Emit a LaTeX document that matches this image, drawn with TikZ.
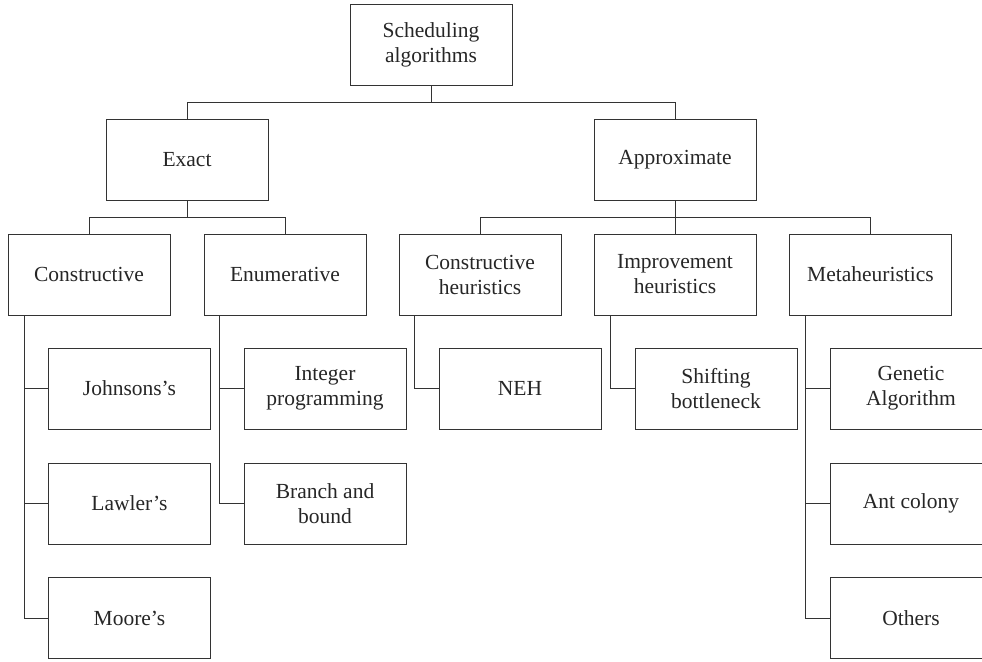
\documentclass[tikz,border=0pt]{standalone}
\usepackage{fontspec}
\setmainfont{Liberation Serif}
\begin{document}
\begin{tikzpicture}[x=1pt,y=-1pt,
  box/.style={draw=black!80, line width=0.9pt, rectangle, minimum width=162pt, minimum height=81pt,
    inner sep=0pt, align=center, text=black!85,
    font=\fontsize{21.5}{25}\selectfont},
  conn/.style={draw=black!80, line width=1pt}]
\useasboundingbox (0,0) rectangle (982,661);
\clip (0,0) rectangle (982,661);
% level 1
\node[box] (root) at (431,45) {Scheduling\\algorithms};
% level 2
\node[box] (exact) at (187,159.5) {Exact};
\node[box] (approx) at (675,159.5) {Approximate};
% level 3
\node[box] (cons) at (89,274.5) {Constructive};
\node[box] (enum) at (285,274.5) {Enumerative};
\node[box] (ch) at (480,274.5) {Constructive\\heuristics};
\node[box] (impr) at (675,274.5) {Improvement\\heuristics};
\node[box] (meta) at (870.5,274.5) {Metaheuristics};
% leaves
\node[box] (john) at (129.5,388.5) {Johnsons’s};
\node[box] (lawler) at (129.5,503.5) {Lawler’s};
\node[box] (moore) at (129.5,618) {Moore’s};
\node[box] (integer) at (325,388.5) {Integer\\programming};
\node[box] (branch) at (325,503.5) {Branch and\\bound};
\node[box] (neh) at (520,388.5) {NEH};
\node[box] (shift) at (716,388.5) {Shifting\\bottleneck};
\node[box] (gen) at (911,388.5) {Genetic\\Algorithm};
\node[box] (ant) at (911,503.5) {Ant colony};
\node[box] (others) at (911,618) {Others};
% buses
\coordinate (b1) at (431,102);
\coordinate (b2) at (187,217);
\coordinate (b3) at (675,217);
\draw[conn] (root.south) -- (b1);
\draw[conn] (exact.north) |- (b1);
\draw[conn] (approx.north) |- (b1);
\draw[conn] (exact.south) -- (b2);
\draw[conn] (cons.north) |- (b2);
\draw[conn] (enum.north) |- (b2);
\draw[conn] (approx.south) -- (b3);
\draw[conn] (ch.north) |- (b3);
\draw[conn] (meta.north) |- (b3);
\draw[conn] (impr.north) -- (b3);
% vertical spines
\coordinate (cv) at ([xshift=17pt]cons.south west);
\coordinate (ev) at ([xshift=16pt]enum.south west);
\coordinate (hv) at ([xshift=16pt]ch.south west);
\coordinate (iv) at ([xshift=17pt]impr.south west);
\coordinate (mv) at ([xshift=16pt]meta.south west);
\draw[conn] (cv) |- (moore.west);
\draw[conn] (john.west) -- (john.west -| cv);
\draw[conn] (lawler.west) -- (lawler.west -| cv);
\draw[conn] (ev) |- (branch.west);
\draw[conn] (integer.west) -- (integer.west -| ev);
\draw[conn] (hv) |- (neh.west);
\draw[conn] (iv) |- (shift.west);
\draw[conn] (mv) |- (others.west);
\draw[conn] (gen.west) -- (gen.west -| mv);
\draw[conn] (ant.west) -- (ant.west -| mv);
\end{tikzpicture}
\end{document}
